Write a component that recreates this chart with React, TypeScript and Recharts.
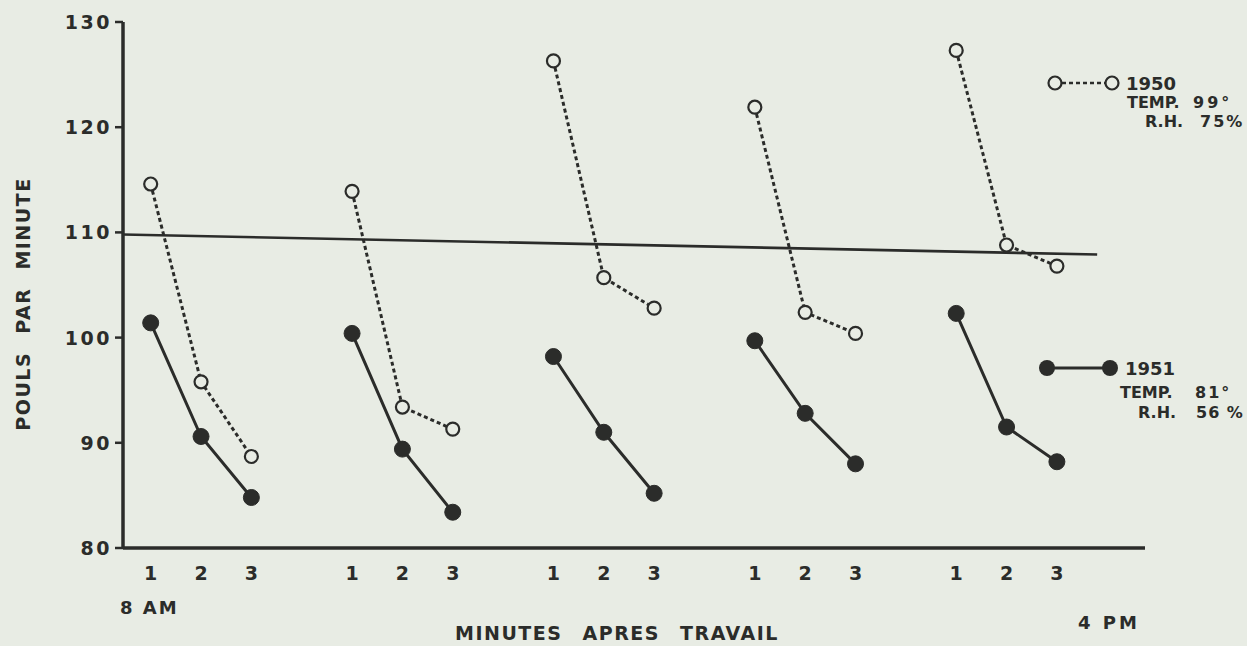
import { LineChart, Line, XAxis, YAxis, ReferenceLine } from 'recharts'

// Pouls par minute, 1, 2 et 3 minutes après le travail,
// cinq relevés dans la journée (8 AM -> 4 PM), étés 1950 et 1951.

const INK = '#2b2c2a'
const PAPER = '#e8ece4'
const FONT = '"DejaVu Sans", "Liberation Sans", sans-serif'

const MINUTES = ['1', '2', '3']
const SESSIONS = 5
const PULSE_1950 = [114.6, 95.8, 88.7, 113.9, 93.4, 91.3, 126.3, 105.7, 102.8, 121.9, 102.4, 100.4, 127.3, 108.8, 106.8]
const PULSE_1951 = [101.4, 90.6, 84.8, 100.4, 89.4, 83.4, 98.2, 91.0, 85.2, 99.7, 92.8, 88.0, 102.3, 91.5, 88.2]
const Y_TICKS = [80, 90, 100, 110, 120, 130]
const BASELINE = [109.8, 107.9] // ligne horizontale, début / fin

type Row = { slot: number; minute: string; y1950: number | null; y1951: number | null }

// one row per minute, plus an empty row between sessions so the lines break
const rows: Row[] = []
for (let s = 0; s < SESSIONS; s++) {
  MINUTES.forEach((m, i) => {
    const k = s * MINUTES.length + i
    rows.push({ slot: rows.length, minute: m, y1950: PULSE_1950[k], y1951: PULSE_1951[k] })
  })
  if (s < SESSIONS - 1) rows.push({ slot: rows.length, minute: '', y1950: null, y1951: null })
}
const xTicks = rows.filter((r) => r.minute).map((r) => r.slot)

function YTick({ x, y, payload }: any) {
  return (
    <text x={x - 1} y={y} dy={7} textAnchor="end" fill={INK} fontFamily={FONT}
      fontWeight="bold" fontSize={19} letterSpacing={2.5}>
      {payload.value}
    </text>
  )
}

function XTick({ x, y, payload }: any) {
  const row = rows[payload.value]
  return (
    <text x={x} y={y + 24} textAnchor="middle" fill={INK} fontFamily={FONT}
      fontWeight="bold" fontSize={19}>
      {row ? row.minute : ''}
    </text>
  )
}

function Note({ x, y, size = 17, spacing = 0, words = 0, rotate = false, children }: any) {
  return (
    <div
      style={{
        position: 'absolute',
        left: x,
        top: y,
        transform: rotate ? 'translate(-50%, -50%) rotate(-90deg)' : 'translateY(-50%)',
        fontFamily: FONT,
        fontWeight: 'bold',
        fontSize: size,
        lineHeight: 1,
        letterSpacing: spacing,
        wordSpacing: words,
        color: INK,
        whiteSpace: 'nowrap',
      }}
    >
      {children}
    </div>
  )
}

const OPEN_DOT = { r: 6.5, fill: PAPER, stroke: INK, strokeWidth: 2.2, strokeDasharray: 'none' }
const FULL_DOT = { r: 8, fill: INK, stroke: INK, strokeWidth: 1 }

export default function App() {
  return (
    <div style={{ position: 'absolute', left: 0, top: 0, width: 1247, height: 646, background: PAPER, overflow: 'hidden' }}>
      <LineChart width={1247} height={646} data={rows} margin={{ top: 22, right: 102, bottom: 68, left: 63 }}>
        <XAxis
          type="number"
          dataKey="slot"
          domain={[-0.55, 19.75]}
          ticks={xTicks}
          interval={0}
          tick={<XTick />}
          tickLine={false}
          axisLine={{ stroke: INK, strokeWidth: 3.5 }}
          height={30}
        />
        <YAxis
          type="number"
          domain={[80, 130]}
          ticks={Y_TICKS}
          interval={0}
          tick={<YTick />}
          tickSize={8}
          tickLine={{ stroke: INK, strokeWidth: 2.5 }}
          axisLine={{ stroke: INK, strokeWidth: 3.5 }}
          width={60}
        />
        <ReferenceLine
          segment={[{ x: -0.55, y: BASELINE[0] }, { x: 18.8, y: BASELINE[1] }]}
          stroke={INK}
          strokeWidth={2.6}
        />
        <Line
          type="linear"
          dataKey="y1950"
          stroke={INK}
          strokeWidth={3}
          strokeDasharray="4 3"
          dot={OPEN_DOT}
          activeDot={false}
          isAnimationActive={false}
        />
        <Line
          type="linear"
          dataKey="y1951"
          stroke={INK}
          strokeWidth={3}
          dot={FULL_DOT}
          activeDot={false}
          isAnimationActive={false}
        />
      </LineChart>

      {/* legend symbols */}
      <svg width={1247} height={646} style={{ position: 'absolute', left: 0, top: 0, pointerEvents: 'none' }}>
        <line x1={1055} y1={83} x2={1112} y2={83} stroke={INK} strokeWidth={2.5} strokeDasharray="4 3" />
        <circle cx={1055} cy={83} r={6.5} fill={PAPER} stroke={INK} strokeWidth={2.2} />
        <circle cx={1112} cy={83} r={6.5} fill={PAPER} stroke={INK} strokeWidth={2.2} />
        <line x1={1047} y1={368} x2={1110} y2={368} stroke={INK} strokeWidth={3} />
        <circle cx={1047} cy={368} r={8} fill={INK} />
        <circle cx={1110} cy={368} r={8} fill={INK} />
      </svg>

      <Note x={1126} y={84} size={18}>1950</Note>
      <Note x={1127} y={103} size={16}>TEMP.</Note>
      <Note x={1193} y={103} size={16} spacing={3}>99°</Note>
      <Note x={1145} y={122} size={16}>R.H.</Note>
      <Note x={1200} y={122} size={16} spacing={2}>75%</Note>

      <Note x={1125} y={369} size={18}>1951</Note>
      <Note x={1120} y={393} size={16}>TEMP.</Note>
      <Note x={1195} y={393} size={16} spacing={2}>81°</Note>
      <Note x={1138} y={413} size={16}>R.H.</Note>
      <Note x={1196} y={413} size={16} spacing={1}>56 %</Note>

      <Note x={23} y={304} size={19} spacing={1.5} words={10} rotate>POULS PAR MINUTE</Note>
      <Note x={455} y={633} size={19} spacing={1.5} words={12}>MINUTES APRES TRAVAIL</Note>
      <Note x={120} y={608} size={18} spacing={2}>8 AM</Note>
      <Note x={1078} y={623} size={18} spacing={3}>4 PM</Note>
    </div>
  )
}
